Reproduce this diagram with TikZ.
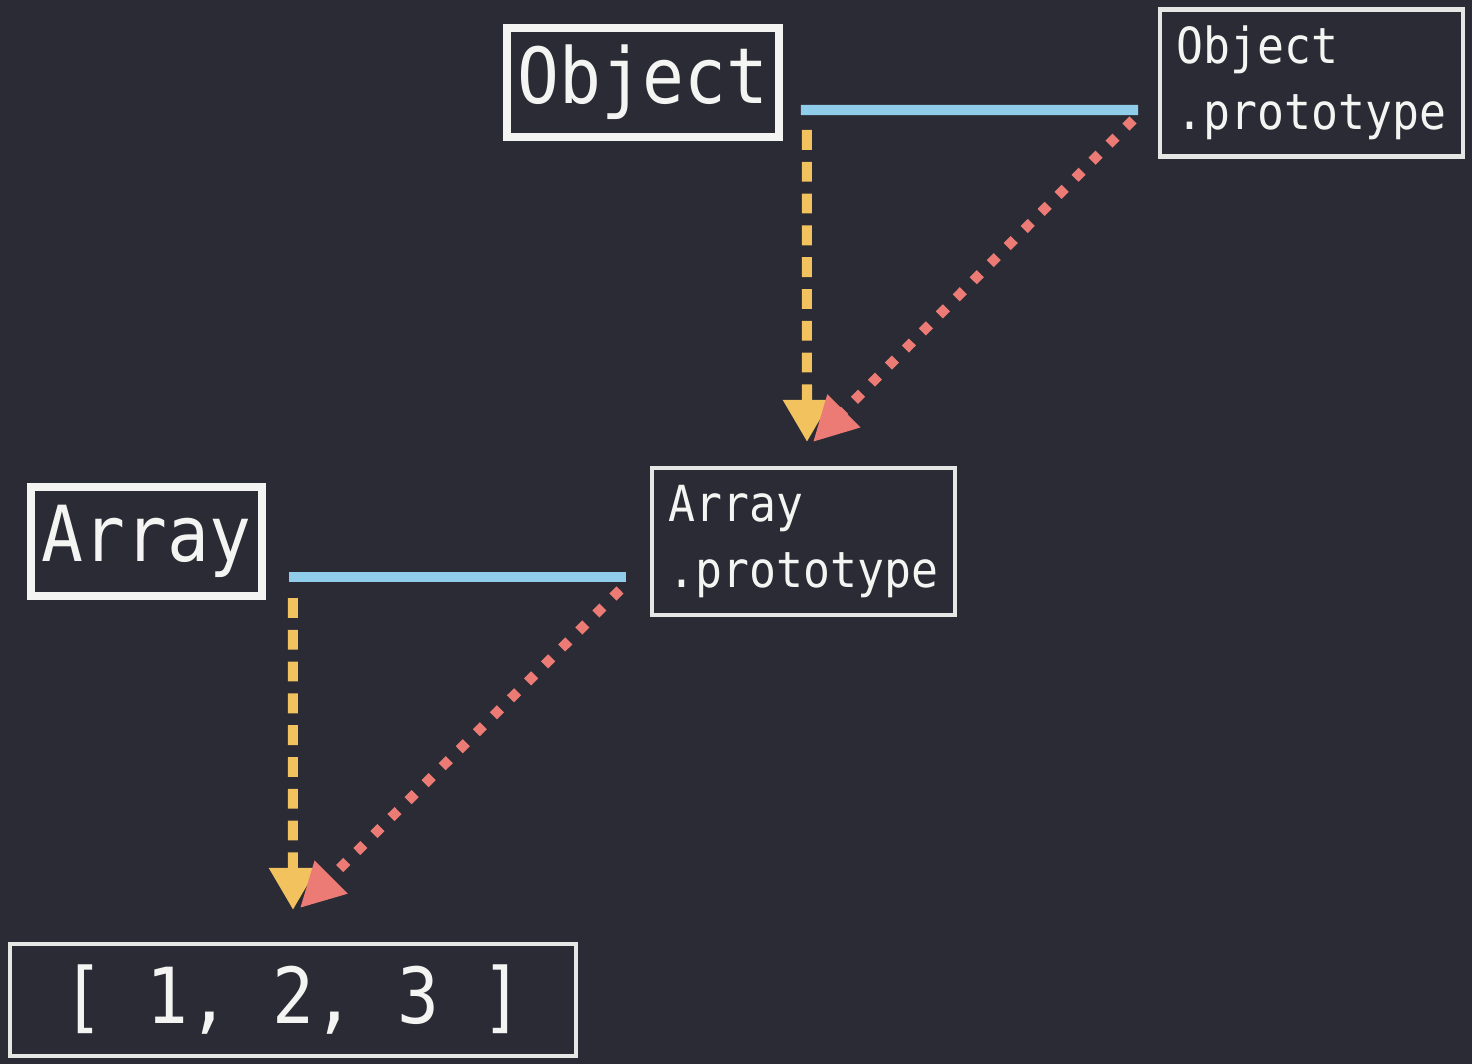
\documentclass[tikz,border=0pt]{standalone}
\usepackage{fontspec}
\newfontfamily\codefont[FakeStretch=0.9]{DejaVu Sans Mono}
\usetikzlibrary{arrows.meta, calc}
\definecolor{slate}{HTML}{2A2B34}
\definecolor{chalk}{HTML}{F4F4F2}
\definecolor{skyblue}{HTML}{8FCDEB}
\definecolor{mustard}{HTML}{F2C25E}
\definecolor{salmon}{HTML}{EC7A75}

\begin{document}
\begin{tikzpicture}[
  x=0.02cm, y=-0.02cm,
  every node/.style={text=chalk},
  bigbox/.style={draw=chalk, line width=4.5pt, inner sep=0pt,
    font=\codefont\fontsize{44}{50}\selectfont, minimum height=2.18cm},
  protobox/.style={draw=chalk!88!gray, line width=2.3pt, inner sep=0pt,
    align=left, font=\codefont\fontsize{28.3}{37.4}\selectfont,
    minimum width=6.06cm, minimum height=2.94cm},
  inherit/.style={skyblue, line width=5.7pt},
  ctorlink/.style={mustard, line width=5.7pt, dash pattern=on 11.3pt off 6.8pt,
    -{Triangle[length=24pt, width=26pt]}},
  protolink/.style={salmon, line width=5.7pt, dash pattern=on 5.7pt off 8pt,
    -{Triangle[length=25pt, width=25pt]}},
]

% Background
\fill[slate] (0,0) rectangle (1472,1064);
\useasboundingbox (0,0) rectangle (1472,1064);

% Boxes
\node[bigbox, minimum width=5.44cm] (obj) at (643,82.5) {Object};
\node[protobox] (objproto) at (1311.5,83) {Object\\.prototype};
\node[bigbox, minimum width=4.62cm] (arr) at (146.5,541.5) {Array};
\node[protobox] (arrproto) at (803.5,541.5) {Array\\.prototype};
\node[bigbox, draw=chalk!88!gray, line width=2.3pt, minimum width=11.32cm,
  minimum height=2.24cm] (nums) at (293,1000) {[ 1, 2, 3 ]};

% Object -> Object.prototype
\draw[inherit] ($(obj.east)+(18,27.5)$) -- ($(objproto.west)+(-20,27)$);
\draw[ctorlink] ($(obj.east)+(24,47.5)$) -- ($(arrproto.north)+(3.5,-24)$);
\draw[protolink] ($(objproto.west)+(-25,37)$) -- ($(arrproto.north)+(9.5,-24)$);

% Array -> Array.prototype
\draw[inherit] ($(arr.east)+(23,35.5)$) -- ($(arrproto.west)+(-24,35.5)$);
\draw[ctorlink] ($(arr.east)+(27,56.5)$) -- ($(nums.north)+(0,-32)$);
\draw[protolink] ($(arrproto.west)+(-30,48.5)$) -- ($(nums.north)+(7,-34)$);

\end{tikzpicture}
\end{document}
